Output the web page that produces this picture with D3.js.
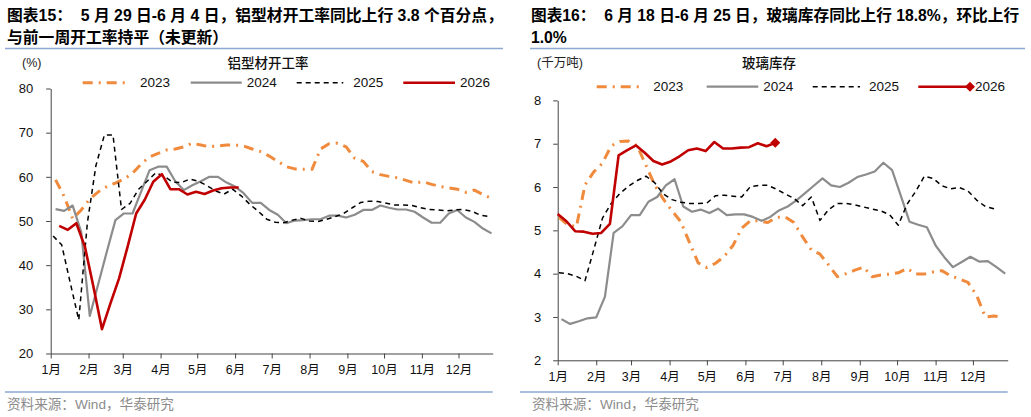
<!DOCTYPE html>
<html><head><meta charset="utf-8">
<script src="https://cdn.jsdelivr.net/npm/d3@7"></script>
<style>
body{margin:0;background:#fff}
svg{display:block}
text{font-family:"Liberation Sans",Arial,"Noto Sans CJK SC",sans-serif}
</style>
</head><body>
<svg id="chart" width="1031" height="417"></svg>
<script>
// ---------- data ----------
const monthLabels = ["1月","2月","3月","4月","5月","6月","7月","8月","9月","10月","11月","12月"];
const seriesNames = ["2023","2024","2025","2026"];

// Left: aluminium profile operating rate (%), weekly
const alumTicks = [20,30,40,50,60,70,80];
const alumStarts = ["01-05","01-05","01-03","01-08"];
const alum2023 = [59.3,55.6,50.5,52.5,55.0,56.6,57.8,58.6,59.5,60.8,62.9,64.5,65.3,66.1,66.3,66.8,67.6,67.2,66.8,67.0,67.2,67.2,67.0,66.3,65.7,64.7,63.5,62.3,61.8,61.7,61.7,66.3,67.5,67.6,66.8,64.2,63.5,61.2,60.5,60.1,59.8,59.2,58.6,58.9,58.3,57.8,57.5,57.2,56.5,57.0,56.0,55.1];
const alum2024 = [52.7,52.3,53.5,47.5,28.5,35.8,43.1,50.2,51.7,51.7,56.6,61.5,62.3,62.3,59.0,57.0,58.1,59.0,60.0,60.0,58.7,57.8,56.3,54.1,54.1,52.5,51.4,49.5,50.1,50.2,50.4,50.4,51.2,51.2,50.8,51.4,52.5,52.5,53.5,53.0,52.6,52.6,52.1,50.8,49.6,49.6,51.7,52.5,50.8,49.8,48.3,47.2];
const alum2025 = [46.6,44.6,36.0,27.6,49.5,62.5,69.5,69.5,52.6,54.0,57.2,59.0,60.9,60.1,58.8,58.7,59.5,59.0,58.0,56.8,56.1,57.2,55.7,53.8,52.2,50.4,49.7,49.6,50.2,50.6,50.0,49.9,50.4,51.0,51.7,53.0,54.2,54.5,54.4,54.0,53.6,53.6,53.5,53.0,52.6,52.5,52.3,52.5,52.6,52.2,51.3,51.0];
const alum2026 = [48.9,48.0,49.5,44.2,35.1,25.5,31.4,37.0,44.2,51.7,54.8,58.9,60.6,57.2,57.2,56.0,56.6,56.1,56.9,57.4,57.6,57.6];

// Right: glass inventory (10 million tonnes), weekly
const glassTicks = [2,3,4,5,6,7,8];
const glassStarts = ["01-02","01-04","01-02","01-01"];
const glass2023 = [5.30,5.13,5.08,6.05,6.35,6.55,6.95,7.05,7.06,6.95,6.50,6.05,5.72,5.45,5.20,4.72,4.25,4.14,4.24,4.40,4.65,5.05,5.22,5.22,5.18,5.30,5.31,5.18,4.85,4.55,4.45,4.20,3.93,4.00,4.08,4.15,3.93,3.97,3.99,4.02,4.12,3.99,3.99,4.04,4.07,3.95,3.88,3.80,3.50,3.00,3.02,3.00];
const glass2024 = [2.95,2.84,2.90,2.97,2.99,3.47,4.94,5.09,5.35,5.35,5.66,5.77,6.04,6.18,5.55,5.43,5.48,5.40,5.50,5.35,5.37,5.37,5.31,5.22,5.31,5.46,5.55,5.69,5.86,6.03,6.20,6.04,6.00,6.10,6.23,6.29,6.36,6.56,6.39,5.80,5.20,5.13,5.07,4.65,4.38,4.15,4.27,4.39,4.28,4.29,4.15,4.00];
const glass2025 = [4.02,4.00,3.94,3.84,4.55,5.28,5.62,5.85,6.02,6.15,6.25,6.10,5.84,5.71,5.65,5.62,5.62,5.63,5.80,5.81,5.79,5.77,6.01,6.04,6.04,5.95,5.84,5.74,5.57,5.77,5.23,5.48,5.62,5.62,5.59,5.54,5.49,5.45,5.36,5.12,5.60,5.90,6.25,6.20,6.03,5.96,5.99,5.91,5.70,5.55,5.50];
const glass2026 = [5.38,5.21,4.98,4.97,4.92,4.94,5.15,6.73,6.85,6.96,6.79,6.60,6.52,6.59,6.71,6.85,6.89,6.83,7.04,6.89,6.89,6.91,6.92,7.01,6.94,7.02];

// ---------- styles ----------
const colors = ["#F08A3C","#8C8C8C","#000000","#C00000"];
const widths = [3,2.2,1.5,2.6];
const dashes = ["10,6,2,6",null,"5,4",null];
const REF = 2026;

const svg = d3.select("#chart");

function toDate(md, offsetDays){
  const [m,d] = md.split("-").map(Number);
  return new Date(Date.UTC(REF, m-1, d + offsetDays));
}

function panel(cfg){
  const g = svg.append("g");
  const x = d3.scaleUtc().domain([new Date(Date.UTC(REF,0,1)), new Date(Date.UTC(REF,11,29))]).range([cfg.x0, cfg.x1]);
  const y = d3.scaleLinear().domain(cfg.yDomain).range([cfg.yBot, cfg.yTop]);

  // title
  cfg.title.forEach((t,i)=>{
    g.append("text").attr("x",cfg.titleX).attr("y",cfg.titleY + i*22)
      .attr("font-size",cfg.titleSize).attr("font-weight","bold").attr("fill","#000")
      .style("white-space","pre").attr("dominant-baseline","central").text(t);
  });
  // separator lines
  g.append("line").attr("x1",cfg.sepTop[0]).attr("x2",cfg.sepTop[1]).attr("y1",48.5).attr("y2",48.5)
    .attr("stroke","#8DA9D4").attr("stroke-width",1.3);
  g.append("line").attr("x1",cfg.sepBot[0]).attr("x2",cfg.sepBot[1]).attr("y1",392).attr("y2",392)
    .attr("stroke","#8DA9D4").attr("stroke-width",1.3);
  // source
  g.append("text").attr("x",cfg.srcX).attr("y",404).attr("dominant-baseline","central")
    .attr("font-size",13.6).attr("fill","#8c8c8c").text("资料来源：Wind，华泰研究");
  // unit and chart title
  g.append("text").attr("x",cfg.unitX).attr("y",63).attr("dominant-baseline","central")
    .attr("font-size",12.5).attr("fill","#222").text(cfg.unit);
  g.append("text").attr("x",cfg.chartTitleX).attr("y",63).attr("dominant-baseline","central")
    .attr("text-anchor","middle").attr("font-size",13.5).attr("font-weight",500).attr("fill","#111").text(cfg.chartTitle);

  // axes
  const ya = g.append("g").attr("transform",`translate(${cfg.x0},0)`)
    .call(d3.axisLeft(y).tickValues(cfg.yTicks).tickFormat(d3.format("d")).tickSize(4.5).tickPadding(cfg.yPad).tickSizeOuter(0));
  ya.selectAll("text").attr("font-size",13).attr("fill","#111");
  ya.selectAll("line,path").attr("stroke","#444");
  const monthDates = d3.range(12).map(m=>new Date(Date.UTC(REF,m,1)));
  const xa = g.append("g").attr("transform",`translate(0,${cfg.yBot})`)
    .call(d3.axisBottom(x).tickValues(monthDates).tickFormat((d,i)=>monthLabels[i]).tickSize(5).tickPadding(7).tickSizeOuter(0));
  xa.selectAll("text").attr("font-size",12.5).attr("fill","#111");
  xa.selectAll("line,path").attr("stroke","#444");

  // lines
  const line = d3.line().x(d=>x(d.date)).y(d=>y(d.v));
  cfg.series.forEach((vals,k)=>{
    const pts = vals.map((v,i)=>({date: toDate(cfg.starts[k], 7*i), v}));
    const p = g.append("path").datum(pts).attr("d",line).attr("fill","none")
      .attr("stroke",colors[k]).attr("stroke-width",widths[k]).attr("stroke-linejoin","round");
    if(dashes[k]) p.attr("stroke-dasharray",dashes[k]);
    if(k===3 && cfg.marker){
      const last = pts[pts.length-1];
      g.append("path").attr("d",d3.symbol(d3.symbolSquare, 50)())
        .attr("transform",`translate(${x(last.date)},${y(last.v)}) rotate(45)`).attr("fill",colors[3]);
    }
  });

  // legend
  cfg.legend.forEach((L,k)=>{
    const l = g.append("line").attr("x1",L[0]).attr("x2",L[1]).attr("y1",cfg.legY).attr("y2",cfg.legY)
      .attr("stroke",colors[k]).attr("stroke-width",widths[k]);
    if(dashes[k]) l.attr("stroke-dasharray",dashes[k]);
    if(k===3 && cfg.marker){
      g.append("path").attr("d",d3.symbol(d3.symbolSquare, 50)())
        .attr("transform",`translate(${L[1]},${cfg.legY}) rotate(45)`).attr("fill",colors[3]);
    }
    g.append("text").attr("x",L[2]).attr("y",cfg.legY).attr("dominant-baseline","central")
      .attr("font-size",13.5).attr("fill","#111").text(seriesNames[k]);
  });
}

panel({
  x0:50.7, x1:492.7, yTop:88.5, yBot:353.5, yDomain:[20,80], yTicks:alumTicks, yPad:13,
  title:["图表15：  5 月 29 日-6 月 4 日，铝型材开工率同比上行 3.8 个百分点，","与前一周开工率持平（未更新）"],
  titleX:7, titleY:15, titleSize:15.8, sepTop:[5,503], sepBot:[5,492.7], srcX:7,
  unit:"(%)", unitX:22, chartTitle:"铝型材开工率", chartTitleX:268,
  series:[alum2023,alum2024,alum2025,alum2026], starts:alumStarts, marker:false,
  legY:82.7, legend:[[82.7,130,140],[190.7,241.7,246.7],[296.7,343.3,353.3],[403.3,455,460]]
});

panel({
  x0:557.7, x1:1007.7, yTop:100.4, yBot:360.3, yDomain:[2,8], yTicks:glassTicks, yPad:12,
  title:["图表16：  6 月 18 日-6 月 25 日，玻璃库存同比上行 18.8%，环比上行","1.0%"],
  titleX:531, titleY:15, titleSize:15.7, sepTop:[530,1025], sepBot:[520,1007.7], srcX:532,
  unit:"(千万吨)", unitX:537, chartTitle:"玻璃库存", chartTitleX:769,
  series:[glass2023,glass2024,glass2025,glass2026], starts:glassStarts, marker:true,
  legY:86.7, legend:[[596.7,644.3,653.3],[706.7,758.3,763.3],[812.7,860,869],[918.3,970,975]]
});
</script>
</body></html>
